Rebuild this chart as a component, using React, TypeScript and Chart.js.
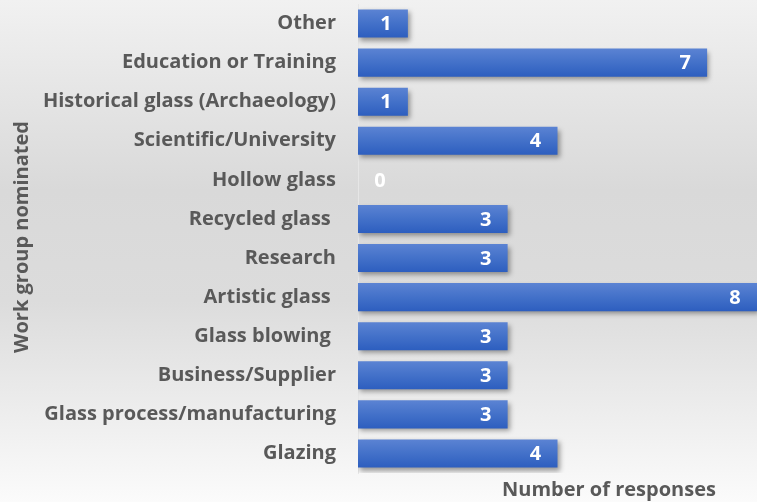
import React, { useEffect, useRef } from "react";
import { Chart, registerables } from "chart.js";

Chart.register(...registerables);

const categories = [
  "Other",
  "Education or Training",
  "Historical glass (Archaeology)",
  "Scientific/University",
  "Hollow glass",
  "Recycled glass ",
  "Research",
  "Artistic glass ",
  "Glass blowing ",
  "Business/Supplier",
  "Glass process/manufacturing",
  "Glazing",
];
const responses = [1, 7, 1, 4, 0, 3, 3, 8, 3, 3, 3, 4];
const xAxisTitle = "Number of responses";
const yAxisTitle = "Work group nominated";
const xMin = 0;
const xMax = 8;

const FONT = "'Open Sans', 'Noto Sans', sans-serif";
const TEXT = "#595959";

const bgPlugin = {
  id: "bgPlugin",
  beforeDraw(chart: any) {
    const { ctx, width, height } = chart;
    ctx.save();
    const g = ctx.createLinearGradient(0, 0, 0, height);
    g.addColorStop(0, "#f1f1f1");
    g.addColorStop(0.38, "#d9d9d9");
    g.addColorStop(0.6, "#dcdcdc");
    g.addColorStop(1, "#fbfbfb");
    ctx.fillStyle = g;
    ctx.fillRect(0, 0, width, height);
    ctx.restore();
  },
  beforeDatasetsDraw(chart: any) {
    const ctx = chart.ctx;
    ctx.save();
    ctx.shadowColor = "rgba(0,0,0,0.38)";
    ctx.shadowBlur = 5;
    ctx.shadowOffsetX = 2;
    ctx.shadowOffsetY = 3;
  },
  afterDatasetsDraw(chart: any) {
    const ctx = chart.ctx;
    ctx.restore();
    const meta = chart.getDatasetMeta(0);
    const xs = chart.scales.x;
    ctx.save();
    ctx.font = `bold 20px ${FONT}`;
    ctx.fillStyle = "#ffffff";
    ctx.textAlign = "center";
    ctx.textBaseline = "middle";
    meta.data.forEach((el: any, i: number) => {
      const v = responses[i];
      const end = xs.getPixelForValue(v);
      const base = xs.getPixelForValue(0);
      const x = v === 0 ? base + 22 : end - 22;
      ctx.fillText(String(v), x, el.y + 1);
    });
    ctx.restore();
  },
  afterDraw(chart: any) {
    const ctx = chart.ctx;
    ctx.save();
    ctx.font = `bold 20px ${FONT}`;
    ctx.fillStyle = TEXT;
    ctx.textAlign = "center";
    ctx.textBaseline = "middle";
    ctx.fillText(xAxisTitle, 609, 490);
    ctx.translate(22, 237);
    ctx.rotate(-Math.PI / 2);
    ctx.fillText(yAxisTitle, 0, 0);
    ctx.restore();
  },
};

export default function App() {
  const ref = useRef<HTMLCanvasElement | null>(null);
  useEffect(() => {
    if (!ref.current) return;
    const chart = new Chart(ref.current, {
      type: "bar",
      data: {
        labels: categories,
        datasets: [
          {
            data: responses,
            backgroundColor: (c: any) => {
              const ch = c.chart;
              const ys = ch.scales && ch.scales.y;
              if (!ys || c.dataIndex === undefined) return "#4472c4";
              const y = ys.getPixelForValue(c.dataIndex);
              if (!Number.isFinite(y)) return "#4472c4";
              const g = ch.ctx.createLinearGradient(0, y - 14, 0, y + 14);
              g.addColorStop(0, "#5b83d3");
              g.addColorStop(0.5, "#4371c9");
              g.addColorStop(1, "#2d5ebf");
              return g;
            },
            borderWidth: 0,
            barPercentage: 0.72,
            categoryPercentage: 1,
          },
        ],
      },
      options: {
        indexAxis: "y",
        animation: false,
        responsive: false,
        maintainAspectRatio: false,
        layout: { autoPadding: false, padding: { top: 4, bottom: 29, left: 0, right: 0 } },
        plugins: {
          legend: { display: false },
          tooltip: { enabled: false },
        },
        scales: {
          x: {
            display: false,
            min: xMin,
            max: xMax,
          },
          y: {
            grid: { display: false, drawTicks: false },
            border: { display: true, color: "#e6e6e6", width: 1 },
            ticks: {
              color: TEXT,
              font: { family: FONT, size: 20, weight: "bold" },
              padding: 22,
              autoSkip: false,
            },
            afterFit: (s: any) => {
              s.width = 358;
              s.paddingTop = 0;
              s.paddingBottom = 0;
            },
          },
        },
      },
      plugins: [bgPlugin],
    });
    return () => chart.destroy();
  }, []);
  return (
    <div style={{ position: "fixed", left: 0, top: 0, width: 757, height: 502 }}>
      <canvas ref={ref} width={757} height={502} style={{ display: "block" }} />
    </div>
  );
}
